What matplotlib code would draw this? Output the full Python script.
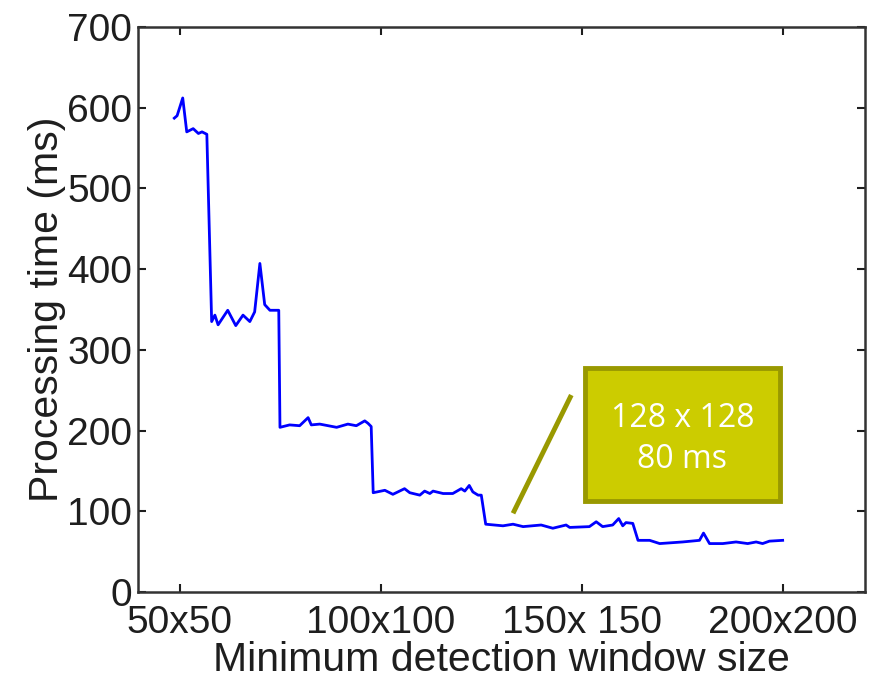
import matplotlib
matplotlib.use("Agg")
import matplotlib.pyplot as plt
from matplotlib.patches import Rectangle

# window size (side length, px) vs processing time (ms)
win_size = [48.6, 49.3, 50.7, 51.7, 53.3, 54.6, 55.5, 56.7,
            57.9, 58.7, 59.5, 61.9, 63.9, 65.7, 67.4, 68.6, 69.9, 71.1, 72.4, 73.6,
            74.6, 74.9, 77.3, 79.8, 81.9, 82.7, 84.8, 89.0, 91.8, 93.9, 96.0, 96.8,
            97.6, 98.1, 101.0, 103.0, 105.9, 107.2, 109.7, 110.9, 112.2, 113.0,
            115.5, 117.9, 120.0, 120.9, 122.0, 122.9, 124.2, 125.0,
            126.1, 130.4, 132.9, 135.4, 139.9, 142.8, 146.1, 147.0, 151.9, 153.6,
            155.2, 157.7, 159.2, 160.2, 161.0, 162.7,
            164.0, 166.9, 169.4, 175.1, 179.3, 180.3, 181.8, 185.1, 188.4, 191.3,
            193.4, 195.0, 196.7, 200.0]
proc_time = [587, 590, 612, 570, 574, 568, 570, 567,
             335, 343, 331, 349, 330, 343, 335, 347, 407, 356, 349, 349,
             349, 204, 207, 206, 216, 207, 208, 204, 208, 206, 212, 209,
             205, 123, 126, 121, 128, 123, 120, 125, 122, 125,
             122, 122, 128, 125, 132, 124, 120, 120,
             84, 82, 84, 81, 83, 79, 83, 80, 81, 87,
             81, 83, 91, 82, 86, 85,
             64, 64, 60, 62, 64, 73, 60, 60, 62, 60,
             62, 60, 63, 64]

tick_pos = [50, 100, 150, 200]
tick_labels = ["50x50", "100x100", "150x 150", "200x200"]
y_ticks = [0, 100, 200, 300, 400, 500, 600, 700]

# callout: leader line and box (data coords)
lead_x = [132.9, 147.4]
lead_y = [97.5, 244]
box_x, box_y, box_w, box_h = 150.7, 112.8, 48.7, 164.2
callout_lines = ["128 x 128", "80 ms"]

plt.rcParams["font.family"] = ["Liberation Sans", "DejaVu Sans"]
ink = "#1e1e1e"

fig = plt.figure(figsize=(8.7, 6.8), dpi=100)
ax = fig.add_axes([0.1583, 0.1294, 0.836, 0.831])

ax.plot(win_size, proc_time, color="#0000ff", lw=2)

ax.set_xlim(39.5, 220.5)
ax.set_ylim(0, 700)
ax.set_xticks(tick_pos)
ax.set_xticklabels(tick_labels)
ax.set_yticks(y_ticks)
ax.tick_params(direction="in", length=6, width=1.5, top=True, right=True,
               labelsize=28, colors=ink)
ax.tick_params(axis="x", pad=9)
ax.tick_params(axis="y", pad=4)
for s in ax.spines.values():
    s.set_linewidth(1.8)
    s.set_color("#333333")

ax.set_xlabel("Minimum detection window size", fontsize=29.5, color=ink, labelpad=0)
ax.set_ylabel("Processing time (ms)", fontsize=29.5, color=ink, labelpad=1)

# callout
ax.plot(lead_x, lead_y, color="#999900", lw=3.5, solid_capstyle="butt")
ax.add_patch(Rectangle((box_x, box_y), box_w, box_h, facecolor="#cccc00",
                       edgecolor="#999900", lw=3.5, zorder=3))
cx = box_x + box_w / 2
ax.text(cx, box_y + box_h * 0.62, callout_lines[0], ha="center", va="center",
        color="white", fontsize=23, family=["Open Sans", "DejaVu Sans"], zorder=4)
ax.text(cx, box_y + box_h * 0.31, callout_lines[1], ha="center", va="center",
        color="white", fontsize=23, family=["Open Sans", "DejaVu Sans"], zorder=4)

fig.savefig("out.png", dpi=100)
